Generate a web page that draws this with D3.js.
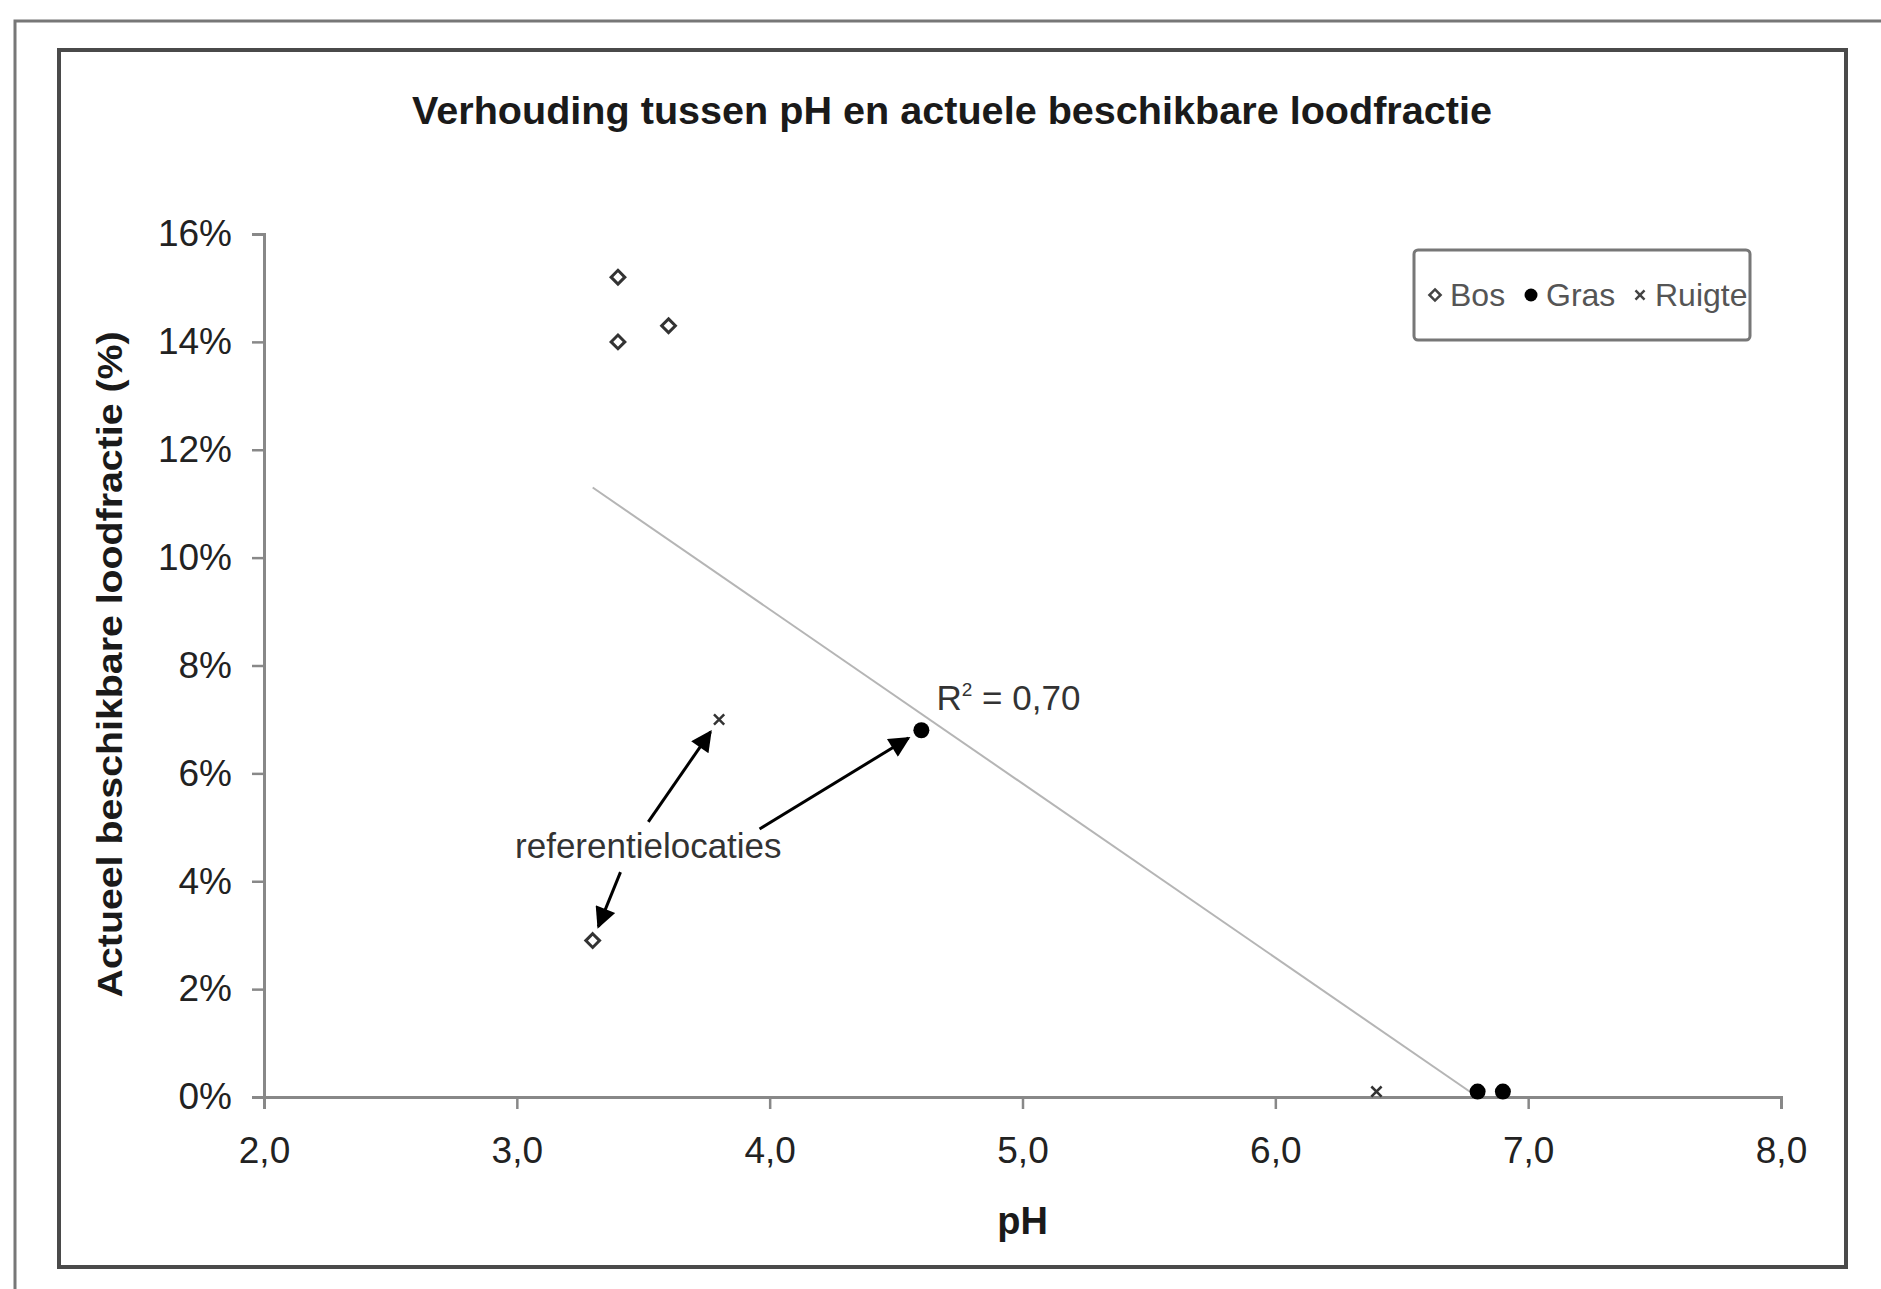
<!DOCTYPE html>
<html>
<head>
<meta charset="utf-8">
<script src="https://cdn.jsdelivr.net/npm/d3@7"></script>
<style>
  body { margin: 0; background: #fff; }
  svg { display: block; font-family: "Liberation Sans", Arial, sans-serif; }
</style>
</head>
<body>
<div id="graph"></div>
<script>
// data (pH, % lead fraction)
const bosX = [3.4, 3.4, 3.6, 3.3];
const bosY = [15.2, 14.0, 14.3, 2.9];
const grasX = [4.6, 6.8, 6.9];
const grasY = [6.8, 0.1, 0.1];
const ruigteX = [3.8, 6.4];
const ruigteY = [7.0, 0.1];

// trendline end points
const trendX = [3.3, 6.8];
const trendY = [11.3, 0.0];

const xTicks = [2, 3, 4, 5, 6, 7, 8];
const yTicks = [0, 2, 4, 6, 8, 10, 12, 14, 16];

const legendLabels = ["Bos", "Gras", "Ruigte"];

// annotation: where each arrow starts (pH, %)
const arrowStartX = [3.52, 3.96, 3.41];
const arrowStartY = [5.10, 4.97, 4.17];

const width = 1881;
const height = 1289;
const marginLeft = 264;
const marginRight = 100;
const marginTop = 234;
const marginBottom = 192;

const nl = d3.formatLocale({decimal: ",", thousands: ".", grouping: [3], currency: ["€", ""]});

const xScale = d3.scaleLinear()
            .domain([2, 8])
            .range([marginLeft, width - marginRight]);

const yScale = d3.scaleLinear()
            .domain([0, 16])
            .range([height - marginBottom, marginTop]);

const svg = d3.select("#graph").append("svg")
              .attr("width", width)
              .attr("height", height);

// outer document frame
svg.append("path")
   .attr("d", `M15,${height} V21 H${width}`)
   .attr("fill", "none")
   .attr("stroke", "#777")
   .attr("stroke-width", 3);

// chart frame
svg.append("rect")
   .attr("x", 59)
   .attr("y", 50)
   .attr("width", 1787)
   .attr("height", 1217)
   .attr("fill", "#fff")
   .attr("stroke", "#4a4a4a")
   .attr("stroke-width", 4);

svg.append("text")
   .attr("x", 952)
   .attr("y", 124)
   .attr("text-anchor", "middle")
   .attr("font-weight", "bold")
   .attr("font-size", 39)
   .attr("textLength", 1080)
   .attr("lengthAdjust", "spacingAndGlyphs")
   .attr("fill", "#1a1a1a")
   .text("Verhouding tussen pH en actuele beschikbare loodfractie");

const xAxis = d3.axisBottom(xScale)
                .tickValues(xTicks)
                .tickSize(12)
                .tickPadding(28)
                .tickFormat(nl.format(".1f"));

const yAxis = d3.axisLeft(yScale)
                .tickValues(yTicks)
                .tickSize(12)
                .tickPadding(20)
                .tickFormat(d => d + "%");

const gx = svg.append("g")
   .attr("transform", `translate(0, ${height - marginBottom})`)
   .call(xAxis);

const gy = svg.append("g")
   .attr("transform", `translate(${marginLeft}, 0)`)
   .call(yAxis);

[gx, gy].forEach(g => {
   g.select(".domain").attr("stroke", "#888").attr("stroke-width", 3);
   g.selectAll(".tick line").attr("stroke", "#888").attr("stroke-width", 2.5);
   g.selectAll(".tick text")
    .attr("font-size", 37)
    .attr("font-family", "Liberation Sans, Arial, sans-serif")
    .attr("fill", "#222");
});

svg.append("text")
   .attr("x", xScale(5))
   .attr("y", 1234)
   .attr("text-anchor", "middle")
   .attr("font-weight", "bold")
   .attr("font-size", 38)
   .attr("fill", "#1a1a1a")
   .text("pH");

svg.append("text")
   .attr("transform", "rotate(-90)")
   .attr("x", -yScale(8.02))
   .attr("y", 122)
   .attr("text-anchor", "middle")
   .attr("font-weight", "bold")
   .attr("font-size", 35)
   .attr("textLength", 666)
   .attr("lengthAdjust", "spacingAndGlyphs")
   .attr("fill", "#1a1a1a")
   .text("Actueel beschikbare loodfractie (%)");

// trendline
svg.append("line")
   .attr("x1", xScale(trendX[0]))
   .attr("y1", yScale(trendY[0]))
   .attr("x2", xScale(trendX[1]))
   .attr("y2", yScale(trendY[1]))
   .attr("stroke", "#b5b5b5")
   .attr("stroke-width", 2);

const diamond = d3.symbol().type(d3.symbolDiamond2).size(120);
const cross = d3.symbol().type(d3.symbolX).size(70);

svg.append("g")
   .selectAll("path")
   .data(d3.zip(bosX, bosY))
   .join("path")
   .attr("transform", d => `translate(${xScale(d[0])},${yScale(d[1])})`)
   .attr("d", diamond)
   .attr("fill", "#fff")
   .attr("stroke", "#333")
   .attr("stroke-width", 3);

svg.append("g")
   .selectAll("circle")
   .data(d3.zip(grasX, grasY))
   .join("circle")
   .attr("cx", d => xScale(d[0]))
   .attr("cy", d => yScale(d[1]))
   .attr("r", 8)
   .attr("fill", "#000");

svg.append("g")
   .selectAll("path")
   .data(d3.zip(ruigteX, ruigteY))
   .join("path")
   .attr("transform", d => `translate(${xScale(d[0])},${yScale(d[1])})`)
   .attr("d", cross)
   .attr("fill", "none")
   .attr("stroke", "#333")
   .attr("stroke-width", 2.5);

svg.append("text")
   .attr("x", xScale(4.66))
   .attr("y", yScale(7.17))
   .attr("font-size", 35)
   .attr("fill", "#333")
   .html('R<tspan dy="-14" font-size="19">2</tspan><tspan dy="14"> = 0,70</tspan>');

// arrows from label to the reference locations
const defs = svg.append("defs");
defs.append("marker")
    .attr("id", "head")
    .attr("viewBox", "0 0 10 10")
    .attr("refX", 9)
    .attr("refY", 5)
    .attr("markerWidth", 9)
    .attr("markerHeight", 7)
    .attr("markerUnits", "strokeWidth")
    .attr("orient", "auto")
    .append("path")
    .attr("d", "M0,0 L10,5 L0,10 z")
    .attr("fill", "#000");

const targets = [[ruigteX[0], ruigteY[0]], [grasX[0], grasY[0]], [bosX[3], bosY[3]]];

svg.append("g")
   .selectAll("line")
   .data(targets)
   .join("line")
   .each(function(d, i) {
      const x0 = xScale(arrowStartX[i]), y0 = yScale(arrowStartY[i]);
      const x1 = xScale(d[0]), y1 = yScale(d[1]);
      const len = Math.hypot(x1 - x0, y1 - y0);
      const k = (len - 15) / len;
      d3.select(this)
        .attr("x1", x0).attr("y1", y0)
        .attr("x2", x0 + (x1 - x0) * k)
        .attr("y2", y0 + (y1 - y0) * k);
   })
   .attr("stroke", "#000")
   .attr("stroke-width", 3)
   .attr("marker-end", "url(#head)");

svg.append("text")
   .attr("x", xScale(3.52))
   .attr("y", yScale(4.65))
   .attr("dy", "0.35em")
   .attr("text-anchor", "middle")
   .attr("font-size", 35)
   .attr("fill", "#333")
   .text("referentielocaties");

// legend
const legend = svg.append("g");
legend.append("clipPath")
      .attr("id", "legclip")
      .append("rect")
      .attr("x", 1414).attr("y", 250).attr("width", 336).attr("height", 90);

legend.append("rect")
      .attr("x", 1414).attr("y", 250).attr("width", 336).attr("height", 90)
      .attr("rx", 4)
      .attr("fill", "#fff")
      .attr("stroke", "#777")
      .attr("stroke-width", 3);

const legItems = legend.append("g").attr("clip-path", "url(#legclip)");
const legX = [1435, 1531, 1640];
const legY = 295;
legItems.append("path")
        .attr("transform", `translate(${legX[0]},${legY})`)
        .attr("d", d3.symbol().type(d3.symbolDiamond2).size(80))
        .attr("fill", "#fff").attr("stroke", "#444").attr("stroke-width", 2.5);
legItems.append("circle")
        .attr("cx", legX[1]).attr("cy", legY).attr("r", 6.5).attr("fill", "#000");
legItems.append("path")
        .attr("transform", `translate(${legX[2]},${legY})`)
        .attr("d", d3.symbol().type(d3.symbolX).size(55))
        .attr("fill", "none").attr("stroke", "#444").attr("stroke-width", 2.5);
legItems.selectAll("text")
        .data(legendLabels)
        .join("text")
        .attr("x", (d, i) => legX[i] + 15)
        .attr("y", legY)
        .attr("dy", "0.35em")
        .attr("font-size", 32)
        .attr("fill", "#555")
        .text(d => d);
</script>
</body>
</html>
